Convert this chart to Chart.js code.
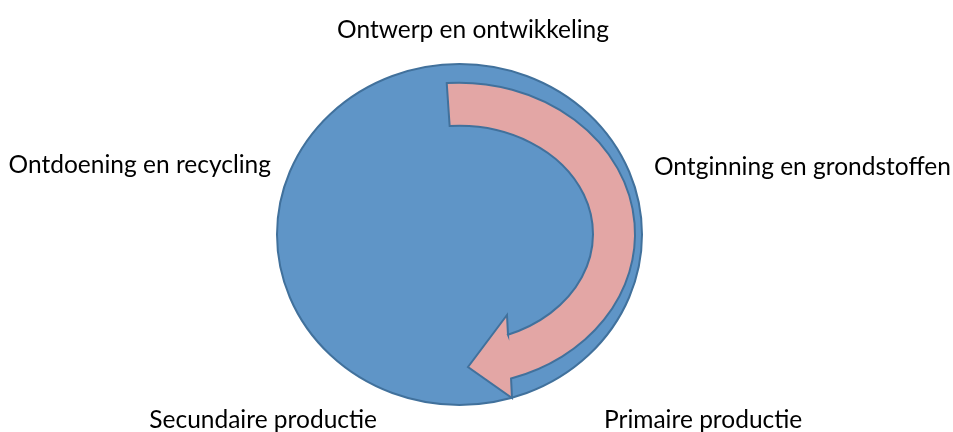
<!DOCTYPE html>
<html>
<head>
<meta charset="utf-8">
<script src="https://cdn.jsdelivr.net/npm/chart.js@4.4.1/dist/chart.umd.min.js"></script>
<style>
  html, body { margin: 0; padding: 0; background: #fff; overflow: hidden; }
  #wrap { width: 953px; height: 432px; }
</style>
</head>
<body>
<div id="wrap"><canvas id="chart"></canvas></div>
<script>
const stages = ['Ontwerp en ontwikkeling', 'Ontginning en grondstoffen', 'Primaire productie', 'Secundaire productie', 'Ontdoening en recycling']

// where each stage label sits around the ring: radial gap, line box height, font size
const labelGap = [-21.5, -25.7, 6.9, -52.7, -3.6]
const labelLine = [20, 17.4, 8.6, 105, 7.8]
const labelSize = [24.5, 24.5, 24.5, 24.5, 24.5]

const blue = '#5f95c7', pink = '#e3a6a5', edge = '#41719c'
const rad = d => d * Math.PI / 180

// the blue ring and the pink curved arrow, drawn around the radial scale centre
const cycle = {
  id: 'cycle',
  afterDraw(chart) {
    const s = chart.scales.r
    const ctx = chart.ctx
    const cx = s.xCenter - 14, cy = s.yCenter - 1
    ctx.save()
    ctx.lineWidth = 2
    ctx.strokeStyle = edge
    ctx.lineJoin = 'miter'
    ctx.fillStyle = blue
    ctx.beginPath()
    ctx.ellipse(cx + 0.5, cy + 0.5, 182.5, 170.5, 0, 0, Math.PI * 2)
    ctx.fill()
    ctx.stroke()

    ctx.beginPath()
    ctx.ellipse(cx, cy, 176, 151.3, 0, rad(-94), rad(72.8))
    ctx.lineTo(cx + 53, cy + 164)
    ctx.lineTo(cx + 9, cy + 133)
    ctx.lineTo(cx + 48, cy + 81)
    ctx.lineTo(cx + 49, cy + 101)
    ctx.ellipse(cx, cy, 134, 108.2, 0, rad(68.6), rad(-94), true)
    ctx.closePath()
    ctx.fillStyle = pink
    ctx.fill()
    ctx.stroke()
    ctx.restore()
  }
}

new Chart(document.getElementById('chart'), {
  type: 'radar',
  data: { labels: stages, datasets: [] },
  options: {
    responsive: true,
    maintainAspectRatio: false,
    animation: false,
    plugins: { legend: { display: false }, tooltip: { enabled: false } },
    scales: {
      r: {
        // ring centre a little left and down from the canvas middle; extra room round
        // the edges so the label boxes never make the scale shrink or shift
        afterSetDimensions: s => {
          s.xCenter -= 3
          s.yCenter += 19
          s.left -= 40
          s.right += 40
          s.top -= 40
          s.bottom += 60
        },
        grid: { display: false },
        angleLines: { display: false },
        ticks: { display: false },
        pointLabels: {
          color: '#000',
          padding: c => labelGap[c.index],
          font: c => ({ family: 'Lato', size: labelSize[c.index], lineHeight: labelLine[c.index] + 'px' })
        }
      }
    }
  },
  plugins: [cycle]
})
</script>
</body>
</html>
